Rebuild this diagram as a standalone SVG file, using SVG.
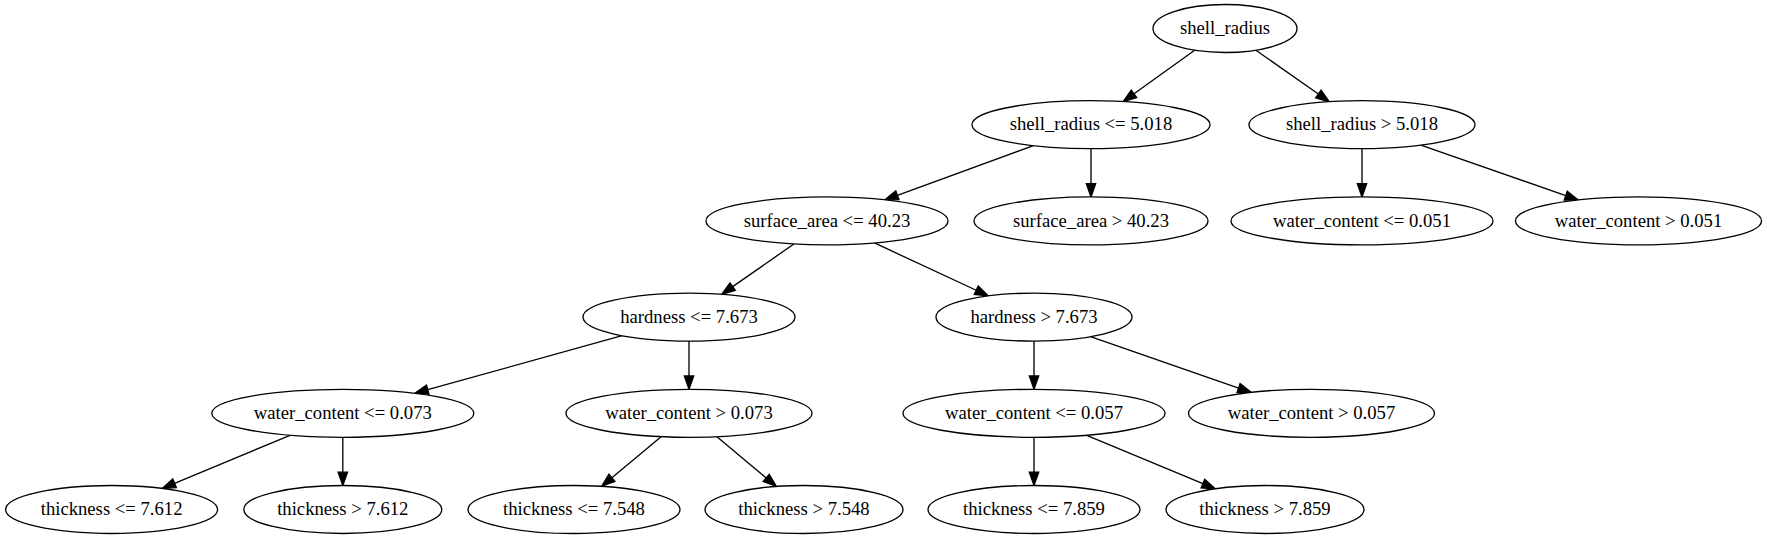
<svg xmlns="http://www.w3.org/2000/svg" width="1767" height="539" viewBox="0 0 1767 539">
<style>
.n ellipse{fill:#fff;stroke:#000;stroke-width:1.33}
.n text{font-family:'Liberation Serif','Times New Roman',Times,'DejaVu Serif',serif;font-size:18.67px;text-anchor:middle;fill:#000}
#edges line{stroke:#000;stroke-width:1.33;marker-end:url(#ah)}
</style>
<defs>
<marker id="ah" markerUnits="userSpaceOnUse" orient="auto" refX="0" refY="0" markerWidth="16" markerHeight="12" viewBox="-1 -6 16 12" overflow="visible">
<path d="M0,-4.67 L13.33,0 L0,4.67 Z" fill="#000" stroke="#000" stroke-width="1.33"/>
</marker>
</defs>
<rect width="1767" height="539" fill="#fff"/>
<g id="edges">
<line x1="1194.68" y1="50.27" x2="1134.01" y2="93.82"/>
<line x1="1255.88" y1="50.18" x2="1318.37" y2="94.07"/>
<line x1="1033.37" y1="145.70" x2="897.37" y2="195.26"/>
<line x1="1091" y1="148.7" x2="1091" y2="183.57"/>
<line x1="1362" y1="148.7" x2="1362" y2="183.57"/>
<line x1="1420.88" y1="145.18" x2="1565.75" y2="195.59"/>
<line x1="793.89" y1="243.98" x2="732.68" y2="286.65"/>
<line x1="874.50" y1="242.97" x2="976.22" y2="290.25"/>
<line x1="622.04" y1="335.71" x2="427.75" y2="389.69"/>
<line x1="689" y1="341.1" x2="689" y2="375.97"/>
<line x1="1034" y1="341.1" x2="1034" y2="375.97"/>
<line x1="1090.54" y1="336.70" x2="1238.58" y2="388.02"/>
<line x1="290.01" y1="435.27" x2="174.57" y2="483.30"/>
<line x1="342.8" y1="437.3" x2="342.8" y2="472.17"/>
<line x1="661.06" y1="436.67" x2="611.91" y2="477.78"/>
<line x1="716.94" y1="436.67" x2="766.22" y2="477.90"/>
<line x1="1034" y1="437.3" x2="1034" y2="472.17"/>
<line x1="1086.75" y1="435.27" x2="1202.88" y2="483.64"/>
</g>
<g id="n0" class="n"><ellipse cx="1225" cy="28.5" rx="72" ry="24"/><text x="1225" y="34.1" font-family="Liberation Serif, serif">shell_radius</text></g>
<g id="n1" class="n"><ellipse cx="1091" cy="124.7" rx="119" ry="24"/><text x="1091" y="130.3" font-family="Liberation Serif, serif">shell_radius &lt;= 5.018</text></g>
<g id="n2" class="n"><ellipse cx="1362" cy="124.7" rx="113" ry="24"/><text x="1362" y="130.3" font-family="Liberation Serif, serif">shell_radius &gt; 5.018</text></g>
<g id="n3" class="n"><ellipse cx="827" cy="220.9" rx="121" ry="24"/><text x="827" y="226.5" font-family="Liberation Serif, serif">surface_area &lt;= 40.23</text></g>
<g id="n4" class="n"><ellipse cx="1091" cy="220.9" rx="117" ry="24"/><text x="1091" y="226.5" font-family="Liberation Serif, serif">surface_area &gt; 40.23</text></g>
<g id="n5" class="n"><ellipse cx="1362" cy="220.9" rx="131" ry="24"/><text x="1362" y="226.5" font-family="Liberation Serif, serif">water_content &lt;= 0.051</text></g>
<g id="n6" class="n"><ellipse cx="1638.5" cy="220.9" rx="123" ry="24"/><text x="1638.5" y="226.5" font-family="Liberation Serif, serif">water_content &gt; 0.051</text></g>
<g id="n7" class="n"><ellipse cx="689" cy="317.1" rx="106" ry="24"/><text x="689" y="322.7" font-family="Liberation Serif, serif">hardness &lt;= 7.673</text></g>
<g id="n8" class="n"><ellipse cx="1034" cy="317.1" rx="98" ry="24"/><text x="1034" y="322.7" font-family="Liberation Serif, serif">hardness &gt; 7.673</text></g>
<g id="n9" class="n"><ellipse cx="342.8" cy="413.3" rx="131" ry="24"/><text x="342.8" y="418.9" font-family="Liberation Serif, serif">water_content &lt;= 0.073</text></g>
<g id="n10" class="n"><ellipse cx="689" cy="413.3" rx="123" ry="24"/><text x="689" y="418.9" font-family="Liberation Serif, serif">water_content &gt; 0.073</text></g>
<g id="n11" class="n"><ellipse cx="1034" cy="413.3" rx="131" ry="24"/><text x="1034" y="418.9" font-family="Liberation Serif, serif">water_content &lt;= 0.057</text></g>
<g id="n12" class="n"><ellipse cx="1311.5" cy="413.3" rx="123" ry="24"/><text x="1311.5" y="418.9" font-family="Liberation Serif, serif">water_content &gt; 0.057</text></g>
<g id="n13" class="n"><ellipse cx="111.6" cy="509.5" rx="106" ry="24"/><text x="111.6" y="515.1" font-family="Liberation Serif, serif">thickness &lt;= 7.612</text></g>
<g id="n14" class="n"><ellipse cx="342.8" cy="509.5" rx="99" ry="24"/><text x="342.8" y="515.1" font-family="Liberation Serif, serif">thickness &gt; 7.612</text></g>
<g id="n15" class="n"><ellipse cx="574" cy="509.5" rx="106" ry="24"/><text x="574" y="515.1" font-family="Liberation Serif, serif">thickness &lt;= 7.548</text></g>
<g id="n16" class="n"><ellipse cx="804" cy="509.5" rx="99" ry="24"/><text x="804" y="515.1" font-family="Liberation Serif, serif">thickness &gt; 7.548</text></g>
<g id="n17" class="n"><ellipse cx="1034" cy="509.5" rx="106" ry="24"/><text x="1034" y="515.1" font-family="Liberation Serif, serif">thickness &lt;= 7.859</text></g>
<g id="n18" class="n"><ellipse cx="1265" cy="509.5" rx="99" ry="24"/><text x="1265" y="515.1" font-family="Liberation Serif, serif">thickness &gt; 7.859</text></g>
</svg>
